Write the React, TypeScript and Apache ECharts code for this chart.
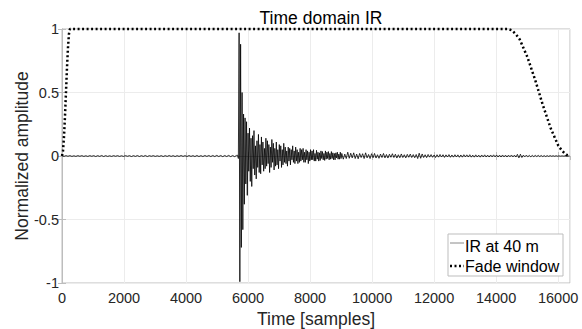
import React, { useEffect, useRef } from "react";
import * as echarts from "echarts";

const xMax = 16384;
const xInterval = 2000;
const yTickValues = [-1, -0.5, 0, 0.5, 1];
const legendNames = ["IR at 40 m", "Fade window"];

// Fade window
const fadeInTime = [0, 32, 64, 96, 128, 160, 192, 224, 256];
const fadeInGain = [0, 0.04, 0.15, 0.31, 0.5, 0.69, 0.85, 0.96, 1];
const fadeOutStart = 14384;
const fadeOutStep = 125;
const fadeOutGain = [1, 0.99, 0.96, 0.92, 0.85, 0.78, 0.69, 0.6, 0.5, 0.4, 0.31, 0.22, 0.15, 0.08, 0.04, 0.01, 0];

// IR at 40 m, read as successive peak excursions
const irPreStart = 0;
const irPreStep = 64;
const irPre = [
  0.002, -0.003, 0.003, -0.002, 0.003, -0.003, 0.002, -0.003, 0.003, -0.002,
  0.003, -0.003, 0.002, -0.003, 0.003, -0.002, 0.003, -0.004, 0.003, -0.003,
  0.004, -0.004, 0.003, -0.003, 0.002, -0.003, 0.003, -0.002, 0.003, -0.003,
  0.002, -0.003, 0.003, -0.002, 0.003, -0.004, 0.003, -0.003, 0.004, -0.004,
  0.003, -0.003, 0.004, -0.004, 0.003, -0.002, 0.003, -0.003, 0.002, -0.003,
  0.003, -0.004, 0.003, -0.003, 0.004, -0.003, 0.003, -0.004, 0.003, -0.003,
  0.004, -0.003, 0.003, -0.004, 0.004, -0.003, 0.003, -0.004, 0.004, -0.004,
  0.003, -0.004, 0.004, -0.003, 0.004, -0.004, 0.004, -0.004, 0.005, -0.004,
  0.004, -0.005, 0.004, -0.004, 0.005, -0.005, 0.004, -0.005, 0.005,
];
const irEarlyStart = 5664;
const irEarlyStep = 24;
const irEarly = [
  0.006, -0.02, 0.97, -0.99, 0.88, -0.72, 0.5, -0.58, 0.33, -0.38,
  0.3, -0.22, 0.27, -0.31, 0.18, -0.12, 0.22, -0.2, 0.14, -0.24,
  0.16, -0.1, 0.2, -0.15, 0.08, -0.18, 0.12, -0.09, 0.17, -0.13,
  0.09, -0.14, 0.15, -0.07, 0.11, -0.12, 0.06, -0.1, 0.14, -0.08,
  0.12, -0.06, 0.09, -0.13, 0.07, -0.09, 0.13, -0.05, 0.1, -0.11,
  0.06, -0.08, 0.11, -0.07, 0.05, -0.1, 0.09, -0.04, 0.08, -0.09,
  0.05, -0.07, 0.1, -0.05, 0.07, -0.06, 0.04, -0.08, 0.07, -0.04,
  0.06, -0.07, 0.05, -0.03, 0.08, -0.05, 0.04, -0.06, 0.07, -0.04,
  0.05, -0.06, 0.03, -0.05, 0.06, -0.04, 0.05, -0.03, 0.06, -0.05,
  0.03, -0.05, 0.05, -0.03, 0.04, -0.06, 0.03, -0.04, 0.05, -0.03,
  0.04, -0.03, 0.05, -0.04, 0.02, -0.04, 0.045, -0.025, 0.03, -0.04,
  0.025, -0.035, 0.04, -0.02, 0.035, -0.03, 0.02, -0.035, 0.04, -0.025,
  0.03, -0.02, 0.035, -0.03, 0.02, -0.025, 0.035, -0.02, 0.025, -0.03,
  0.02, -0.03, 0.025, -0.015, 0.03, -0.025, 0.015, -0.025, 0.03, -0.02,
];
const irLateStart = 9024;
const irLateStep = 48;
const irLate = [
  0.02, -0.025, 0.015, -0.02, 0.03, -0.018, 0.022, -0.015, 0.025, -0.02,
  0.015, -0.022, 0.02, -0.012, 0.018, -0.02, 0.025, -0.015, 0.012, -0.02,
  0.018, -0.014, 0.02, -0.016, 0.01, -0.018, 0.015, -0.012, 0.02, -0.015,
  0.012, -0.016, 0.014, -0.01, 0.018, -0.012, 0.014, -0.016, 0.01, -0.014,
  0.016, -0.012, 0.01, -0.015, 0.013, -0.01, 0.015, -0.012, 0.011, -0.014,
  0.012, -0.02, 0.022, -0.018, 0.016, -0.012, 0.01, -0.013, 0.012, -0.009,
  0.011, -0.01, 0.008, -0.012, 0.01, -0.009, 0.012, -0.008, 0.01, -0.011,
  0.009, -0.008, 0.011, -0.01, 0.008, -0.009, 0.01, -0.008, 0.009, -0.01,
  0.008, -0.009, 0.01, -0.007, 0.009, -0.008, 0.01, -0.009, 0.007, -0.009,
  0.009, -0.008, 0.007, -0.009, 0.008, -0.007, 0.009, -0.008, 0.007, -0.008,
  0.008, -0.007, 0.009, -0.007, 0.008, -0.008, 0.007, -0.008, 0.008, -0.007,
  0.007, -0.008, 0.007, -0.006, 0.008, -0.007, 0.007, -0.008, 0.013, -0.015,
  0.014, -0.012, 0.007, -0.006, 0.007, -0.006, 0.005, -0.006, 0.005, -0.005,
  0.005, -0.004, 0.005, -0.004, 0.004, -0.004, 0.003, -0.004, 0.003, -0.003,
  0.003, -0.002, 0.002, -0.002, 0.002, -0.0015, 0.001, -0.001, 0.001, -0.0008,
  0.0005, -0.0004, 0.0002, 0,
];

const FONT = "'Liberation Sans', Arial, sans-serif";

function seg(start: number, step: number, vals: number[]): [number, number][] {
  return vals.map((v, i) => [start + i * step, v]);
}

export default function App() {
  const ref = useRef<HTMLDivElement>(null);
  useEffect(() => {
    if (!ref.current) return;
    const chart = echarts.init(ref.current, undefined, { renderer: "svg" });
    const irData = [
      ...seg(irPreStart, irPreStep, irPre),
      ...seg(irEarlyStart, irEarlyStep, irEarly),
      ...seg(irLateStart, irLateStep, irLate),
    ];
    const fadeData: [number, number][] = [
      ...fadeInTime.map((t, i) => [t, fadeInGain[i]] as [number, number]),
      ...seg(fadeOutStart, fadeOutStep, fadeOutGain),
    ];
    const axisGray = "#bdbdbd";
    const xLabelFmt = (v: number) => (v % xInterval === 0 ? String(v) : "");
    const lgX = 448;
    const lgY = 234;
    const lz = { z: 100, zlevel: 0 };
    chart.setOption({
      animation: false,
      backgroundColor: "#ffffff",
      title: {
        text: "Time domain IR",
        left: 316,
        top: 4,
        textAlign: "center",
        textStyle: { fontFamily: FONT, fontSize: 17.5, fontWeight: "normal", color: "#000" },
      },
      grid: {
        left: 62,
        right: 12,
        top: 29,
        bottom: 46,
        show: true,
        borderColor: axisGray,
        borderWidth: 1,
        outerBoundsMode: "none",
        containLabel: false,
      },
      legend: { show: false },
      graphic: [
        {
          type: "rect",
          ...lz,
          shape: { x: lgX, y: lgY, width: 115, height: 42 },
          style: { fill: "#fff", stroke: axisGray, lineWidth: 1 },
        },
        {
          type: "line",
          ...lz,
          shape: { x1: lgX + 2, y1: lgY + 9, x2: lgX + 16, y2: lgY + 9 },
          style: { stroke: "#8a8a8a", lineWidth: 1 },
        },
        {
          type: "text",
          ...lz,
          x: lgX + 17,
          y: lgY + 12,
          style: { text: legendNames[0], fontFamily: FONT, fontSize: 16, fill: "#000", verticalAlign: "middle", align: "left" },
        },
        {
          type: "line",
          ...lz,
          shape: { x1: lgX + 2, y1: lgY + 32, x2: lgX + 16, y2: lgY + 32 },
          style: { stroke: "#000", lineWidth: 2.5, lineDash: [2, 2.5] },
        },
        {
          type: "text",
          ...lz,
          x: lgX + 17,
          y: lgY + 32,
          style: { text: legendNames[1], fontFamily: FONT, fontSize: 16, fill: "#000", verticalAlign: "middle", align: "left" },
        },
      ],
      xAxis: [
        {
          type: "value",
          min: 0,
          max: xMax,
          interval: xInterval,
          name: "Time [samples]",
          nameLocation: "middle",
          nameGap: 27,
          nameMoveOverlap: false,
          nameTextStyle: { fontFamily: FONT, fontSize: 17.5, color: "#262626" },
          axisLine: { show: true, lineStyle: { color: axisGray } },
          axisTick: { show: true, inside: true, length: 4, lineStyle: { color: axisGray } },
          axisLabel: { formatter: xLabelFmt, fontFamily: FONT, fontSize: 14.5, color: "#262626", margin: 7, showMaxLabel: false },
          splitLine: { show: true, lineStyle: { color: "#ececec" } },
        },
        {
          type: "value",
          position: "top",
          min: 0,
          max: xMax,
          interval: xInterval,
          axisLine: { show: true, lineStyle: { color: axisGray } },
          axisTick: { show: true, inside: true, length: 4, lineStyle: { color: axisGray } },
          axisLabel: { show: false },
          splitLine: { show: false },
        },
      ],
      yAxis: [
        {
          type: "value",
          min: -1,
          max: 1,
          interval: 0.5,
          name: "Normalized amplitude",
          nameLocation: "middle",
          nameGap: 31,
          nameMoveOverlap: false,
          nameTextStyle: { fontFamily: FONT, fontSize: 17.5, color: "#262626" },
          axisLine: { show: true, lineStyle: { color: axisGray } },
          axisTick: { show: true, inside: true, length: 4, lineStyle: { color: axisGray } },
          axisLabel: {
            fontFamily: FONT,
            fontSize: 14.5,
            color: "#262626",
            margin: 3,
            formatter: (v: number) => (yTickValues.includes(v) ? String(v) : ""),
          },
          splitLine: { show: true, lineStyle: { color: "#ececec" } },
        },
        {
          type: "value",
          position: "right",
          min: -1,
          max: 1,
          interval: 0.5,
          axisLine: { show: true, lineStyle: { color: axisGray } },
          axisTick: { show: true, inside: true, length: 4, lineStyle: { color: axisGray } },
          axisLabel: { show: false },
          splitLine: { show: false },
        },
      ],
      series: [
        {
          name: legendNames[0],
          type: "line",
          data: irData,
          showSymbol: false,
          symbol: "none",
          lineStyle: { color: "#000", width: 0.8 },
          z: 2,
        },
        {
          name: legendNames[1],
          type: "line",
          data: fadeData,
          showSymbol: false,
          symbol: "none",
          clip: false,
          lineStyle: { color: "#000", width: 2.5, type: [2, 2.5], cap: "butt" },
          z: 3,
        },
      ],
    });
    return () => chart.dispose();
  }, []);
  return <div ref={ref} style={{ position: "fixed", left: 0, top: 0, width: 582, height: 329 }} />;
}
